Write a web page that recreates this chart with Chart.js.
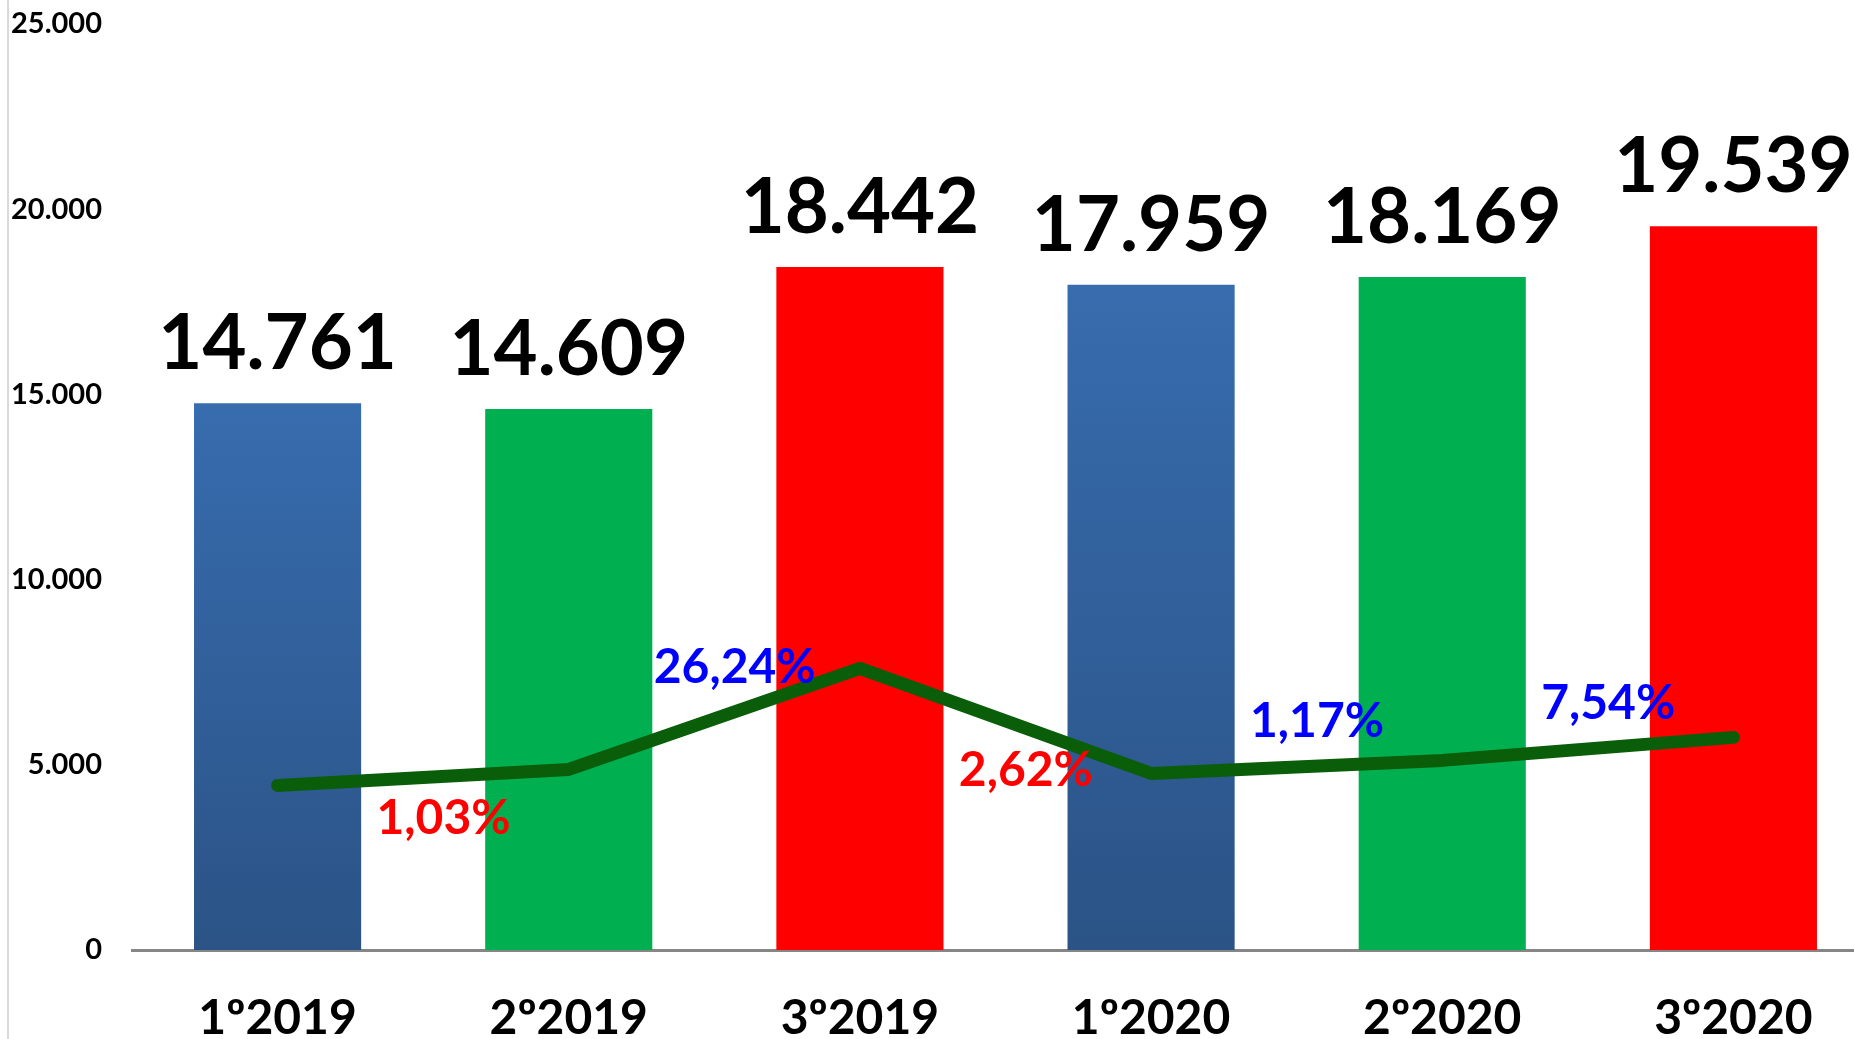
<!DOCTYPE html>
<html>
<head>
<meta charset="utf-8">
<script src="https://cdn.jsdelivr.net/npm/chart.js@4.4.0/dist/chart.umd.min.js"></script>
<style>
  html, body { margin: 0; padding: 0; background: #fff; overflow: hidden; }
  #wrap { position: relative; width: 1854px; height: 1039px; overflow: hidden; }
  #edge { position: absolute; left: 7px; top: 0; width: 2px; height: 1039px; background: #d9d9d9; }
</style>
</head>
<body>
<div id="wrap">
  <canvas id="myChart" width="1879" height="1039"></canvas>
  <div id="edge"></div>
</div>
<script>
const quarters = ["1º2019", "2º2019", "3º2019", "1º2020", "2º2020", "3º2020"];
const totals = [14761, 14609, 18442, 17959, 18169, 19539];
const barKinds = ["blue", "green", "red", "blue", "green", "red"];
// green trend line in units of the left axis
const trendLine = [4444, 4876, 7604, 4768, 5119, 5740];
const changes = ["1,03%", "26,24%", "2,62%", "1,17%", "7,54%"];
const changeUp = [false, true, false, true, true];

const FONT = 'Lato, "Open Sans", sans-serif';

function fmt(n) {
    return String(n).replace(/\B(?=(\d{3})+(?!\d))/g, ".");
}

function barFill(c) {
    const i = c.dataIndex;
    if (i === undefined) return "#376CAE";
    if (barKinds[i] === "green") return "#00B050";
    if (barKinds[i] === "red") return "#FF0000";
    const chart = c.chart;
    const y = chart.scales.y;
    if (!chart.chartArea || !y) return "#3063A0";
    // blue bars fade from top to bottom of each bar
    const g = chart.ctx.createLinearGradient(0, y.getPixelForValue(totals[i]), 0, y.getPixelForValue(0));
    g.addColorStop(0, "#376CAE");
    g.addColorStop(1, "#2B5386");
    return g;
}

const labelPlugin = {
    id: "labels",
    afterDatasetsDraw(chart) {
        const { ctx, scales: { x, y } } = chart;
        ctx.save();
        ctx.textAlign = "center";

        ctx.textBaseline = "alphabetic";
        ctx.fillStyle = "#000";
        ctx.font = "bold 76px " + FONT;
        totals.forEach((v, i) => {
            ctx.fillText(fmt(v), x.getPixelForValue(i), y.getPixelForValue(v) - 34);
        });

        ctx.textBaseline = "middle";
        ctx.font = "bold 48px " + FONT;
        const f = 0.57;
        changes.forEach((t, i) => {
            const px = x.getPixelForValue(i + f);
            const ly = y.getPixelForValue(trendLine[i] + (trendLine[i + 1] - trendLine[i]) * f);
            ctx.fillStyle = changeUp[i] ? "#0000FF" : "#FF0000";
            ctx.fillText(t, px, changeUp[i] ? ly - 44 : ly + 42);
        });
        ctx.restore();
    }
};

const ctx = document.getElementById("myChart");
new Chart(ctx, {
    type: "bar",
    data: {
        labels: quarters,
        datasets: [
            {
                type: "line",
                data: trendLine,
                borderColor: "#0a5e0a",
                borderWidth: 13,
                borderCapStyle: "round",
                borderJoinStyle: "round",
                pointRadius: 0,
                fill: false,
                order: 0
            },
            {
                data: totals,
                backgroundColor: barFill,
                categoryPercentage: 1,
                barPercentage: 0.574,
                order: 1
            }
        ]
    },
    options: {
        responsive: false,
        animation: false,
        layout: { padding: { top: 24, left: 0, right: 0, bottom: 0 } },
        plugins: {
            legend: { display: false },
            tooltip: { enabled: false }
        },
        scales: {
            x: {
                grid: { display: false, drawTicks: false },
                border: { display: true, color: "#868686", width: 3 },
                ticks: {
                    color: "#000",
                    padding: 40,
                    font: { family: FONT, size: 48, weight: "bold" }
                },
                afterFit(scale) { scale.height = 89; }
            },
            y: {
                min: 0,
                max: 25000,
                grid: { display: false, drawTicks: false },
                border: { display: false },
                ticks: {
                    stepSize: 5000,
                    color: "#000",
                    padding: 30,
                    font: { family: FONT, size: 29, weight: "bold" },
                    callback: (v) => fmt(v)
                },
                afterFit(scale) {
                    scale.width = 132;
                    scale.paddingTop = 0;
                    scale.paddingBottom = 0;
                }
            }
        }
    },
    plugins: [labelPlugin]
});
</script>
</body>
</html>
